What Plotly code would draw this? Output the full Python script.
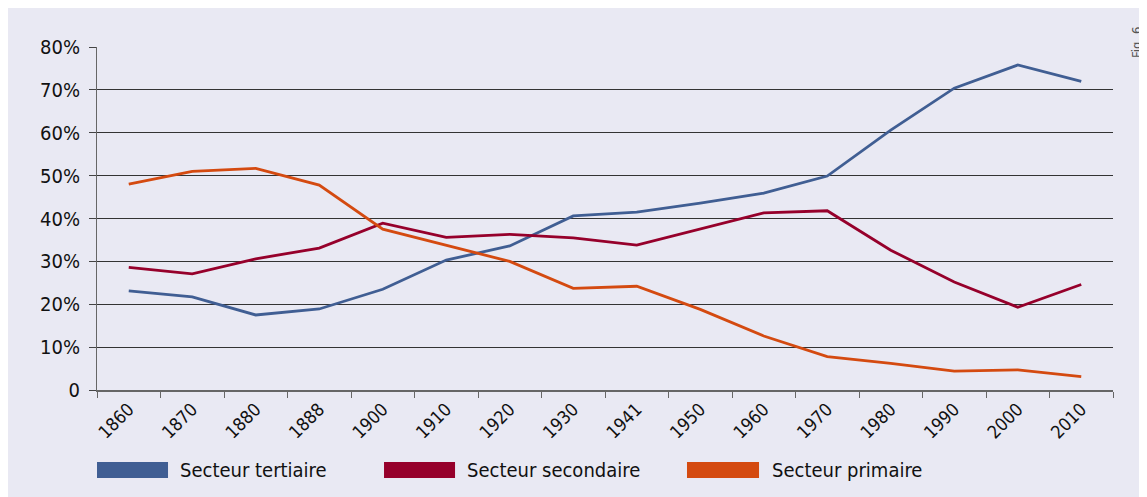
import plotly.graph_objects as go

years = ["1860", "1870", "1880", "1888", "1900", "1910", "1920", "1930", "1941",
         "1950", "1960", "1970", "1980", "1990", "2000", "2010"]
tertiaire = [23.1, 21.7, 17.5, 18.9, 23.5, 30.3, 33.6, 40.6, 41.5, 43.6, 45.9, 49.9, 60.6, 70.4, 75.8, 72.0]
secondaire = [28.6, 27.1, 30.6, 33.1, 38.9, 35.6, 36.3, 35.5, 33.8, 37.5, 41.3, 41.8, 32.6, 25.2, 19.3, 24.6]
primaire = [48.0, 51.0, 51.7, 47.8, 37.5, 33.8, 30.0, 23.7, 24.2, 18.8, 12.6, 7.8, 6.2, 4.4, 4.7, 3.1]

series_names = ["Secteur tertiaire", "Secteur secondaire", "Secteur primaire"]
colors = ["#405E93", "#96002B", "#D44A10"]
y_ticks = [0, 10, 20, 30, 40, 50, 60, 70, 80]
y_tick_labels = ["0", "10%", "20%", "30%", "40%", "50%", "60%", "70%", "80%"]

FONT = "DejaVu Sans Condensed, Liberation Sans Narrow, sans-serif"
BG = "#E9E9F3"

fig = go.Figure()
for name, vals, col in zip(series_names, [tertiaire, secondaire, primaire], colors):
    fig.add_trace(go.Scatter(x=years, y=vals, mode="lines", name=name,
                             line=dict(color=col, width=2.8), showlegend=False))

# manual legend
legend_pos = [(0.0, 0.0699, 0.0797), (0.2825, 0.3524, 0.3622), (0.5807, 0.6516, 0.6624)]
for (x0, x1, tx), name, col in zip(legend_pos, series_names, colors):
    fig.add_shape(type="rect", xref="paper", yref="paper", x0=x0, x1=x1,
                  y0=-0.2566, y1=-0.2099, fillcolor=col, line=dict(width=0))
    fig.add_annotation(xref="paper", yref="paper", x=tx, y=-0.2332, text=name,
                       showarrow=False, xanchor="left", yanchor="middle",
                       font=dict(family=FONT, size=20, color="#111"))

fig.add_annotation(xref="paper", yref="paper", x=1.0236, y=1.0146, text="Fig. 6",
                   showarrow=False, textangle=-90, xanchor="center", yanchor="middle",
                   font=dict(family=FONT, size=13, color="#555"))

fig.update_layout(
    width=1147, height=497,
    margin=dict(l=89, r=42, t=39, b=115),
    paper_bgcolor=BG,
    plot_bgcolor=BG,
    font=dict(family=FONT, size=18, color="#111"),
    xaxis=dict(type="category", tickson="boundaries", ticks="outside", ticklen=6,
               tickcolor="#666", showline=True, linecolor="#666", linewidth=1.5,
               showgrid=False, tickangle=-45, tickfont=dict(size=18), range=[-0.5, 15.5],
               automargin=False),
    yaxis=dict(range=[0, 80], tickvals=y_ticks, ticktext=y_tick_labels,
               ticks="outside", ticklen=7, tickcolor="#444", showline=True,
               linecolor="#666", linewidth=1, showgrid=True, gridcolor="#333",
               gridwidth=1, zeroline=False, tickfont=dict(size=20), automargin=False,
               ticklabelstandoff=5),
)

fig.write_html("out.html")
